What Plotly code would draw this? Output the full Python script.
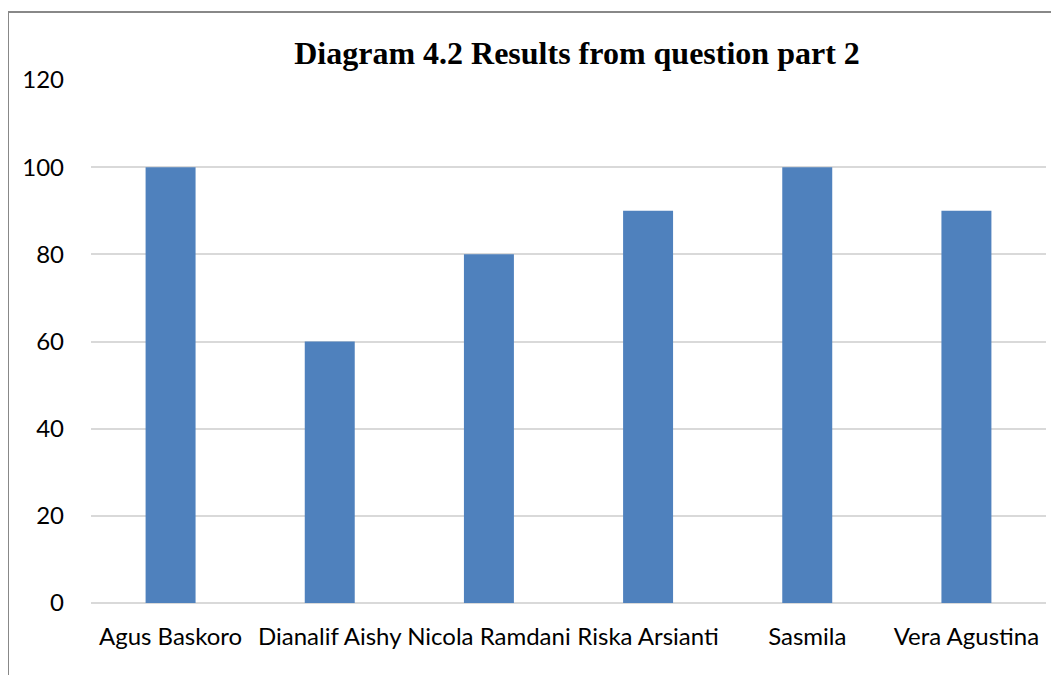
import plotly.graph_objects as go

categories = ["Agus Baskoro", "Dianalif Aishy", "Nicola Ramdani", "Riska Arsianti", "Sasmila", "Vera Agustina"]
values = [100, 60, 80, 90, 100, 90]
y_ticks = [0, 20, 40, 60, 80, 100, 120]

# page has an 8px body margin; compensate so the picture lands at reference positions
OFF = 8
W, H = 1059 - OFF, 675 - OFF
L, T = 91 - OFF, 80 - OFF
R = 13
B = 72
pw, ph = W - L - R, H - T - B

def px(x):
    return (x - OFF - L) / pw

def py(y):
    return (H - B - (y - OFF)) / ph

fig = go.Figure()
fig.add_trace(go.Bar(x=categories, y=values, marker=dict(color="#4F81BD", line=dict(width=0)), width=0.314))

fig.update_layout(
    width=W, height=H,
    margin=dict(l=L, r=R, t=T, b=B),
    paper_bgcolor="white", plot_bgcolor="white",
    showlegend=False,
    title=dict(text="<b>Diagram 4.2 Results from question part 2</b>",
               x=px(577), xref="paper", xanchor="center",
               y=1 - (53 - OFF) / H, yref="container", yanchor="middle",
               font=dict(family="Liberation Serif", size=32, color="black")),
    font=dict(family="Lato", size=24, color="black"),
    bargap=0.686,
)
fig.update_xaxes(showgrid=False, showline=False, ticks="", tickfont=dict(size=24, family="Lato"),
                 ticklabelstandoff=17)
fig.update_yaxes(range=[0, 120], tickvals=y_ticks, showgrid=True, gridcolor="#D9D9D9", gridwidth=1.5,
                 zeroline=True, zerolinecolor="#D9D9D9", zerolinewidth=1.5, showline=False, ticks="",
                 tickfont=dict(size=24, family="Lato"), ticklabelstandoff=26)

fig.add_shape(type="line", xref="paper", yref="paper", x0=px(8), x1=px(1075), y0=py(12), y1=py(12),
              line=dict(color="#888888", width=2))
fig.add_shape(type="line", xref="paper", yref="paper", x0=px(8), x1=px(8), y0=py(12), y1=py(700),
              line=dict(color="#888888", width=2))

fig.write_html("out.html")
